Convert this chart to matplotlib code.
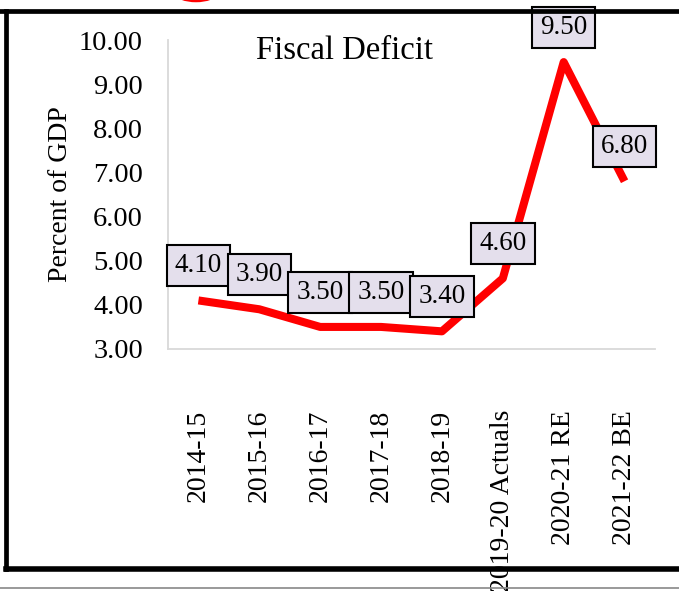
import matplotlib
matplotlib.use("Agg")
import matplotlib.pyplot as plt
from matplotlib.lines import Line2D
from matplotlib.patches import Ellipse

plt.rcParams['font.family'] = ['Liberation Serif', 'DejaVu Serif']

# data
years = ['2014-15', '2015-16', '2016-17', '2017-18', '2018-19',
         '2019-20 Actuals', '2020-21 RE', '2021-22 BE']
deficit = [4.10, 3.90, 3.50, 3.50, 3.40, 4.60, 9.50, 6.80]
yticks = [3, 4, 5, 6, 7, 8, 9, 10]

W, H = 679, 591
fig = plt.figure(figsize=(W / 100, H / 100), dpi=100)
ax = fig.add_axes([168 / W, 1 - 349 / H, (655 - 168) / W, (349 - 40) / H])

x = list(range(len(years)))
ax.plot(x, deficit, color='#ff0000', lw=5.8, solid_joinstyle='round',
        solid_capstyle='butt', zorder=2)

# data labels in boxes
for xi, v in zip(x, deficit):
    ax.annotate(f'{v:.2f}', (xi, v), xytext=(0, 25), textcoords='offset points',
                ha='center', va='center', fontsize=19.5, zorder=3,
                bbox=dict(boxstyle='square,pad=0.3', fc='#e4dfec', ec='black', lw=1.5))

ax.set_xlim(-0.5, len(years) - 0.5)
ax.set_ylim(3, 10)
ax.set_yticks(yticks)
ax.set_yticklabels([f'{t:.2f}' for t in yticks])
ax.set_xticks(x)
ax.set_xticklabels(years, rotation=90)
ax.tick_params(axis='y', length=0, pad=18, labelsize=20.5)
ax.tick_params(axis='x', length=0, pad=44, labelsize=20)

for s in ['top', 'right']:
    ax.spines[s].set_visible(False)
for s in ['left', 'bottom']:
    ax.spines[s].set_color('#d9d9d9')
    ax.spines[s].set_linewidth(1.3)

ax.set_ylabel('Percent of GDP', fontsize=20, labelpad=4)
ax.text(0.363, 0.965, 'Fiscal Deficit', transform=ax.transAxes,
        ha='center', va='center', fontsize=23.5)

# frame around the figure
lw = 3.4
fig.add_artist(Line2D([0, 1], [1 - 11 / H, 1 - 11 / H], color='black', lw=lw))
fig.add_artist(Line2D([6 / W, 6 / W], [1 - 11 / H, 1 - 569 / H], color='black', lw=lw))
fig.add_artist(Line2D([6 / W, 1], [1 - 569 / H, 1 - 569 / H], color='black', lw=4))
fig.add_artist(Line2D([0, 1], [1 - 588 / H, 1 - 588 / H], color='#888888', lw=1.2))
fig.add_artist(Ellipse((196 / W, 1 - (-7) / H), 40 / W, 16 / H, fill=False,
                       ec='#ff0000', lw=1.8))

fig.savefig('out.png', dpi=100)
